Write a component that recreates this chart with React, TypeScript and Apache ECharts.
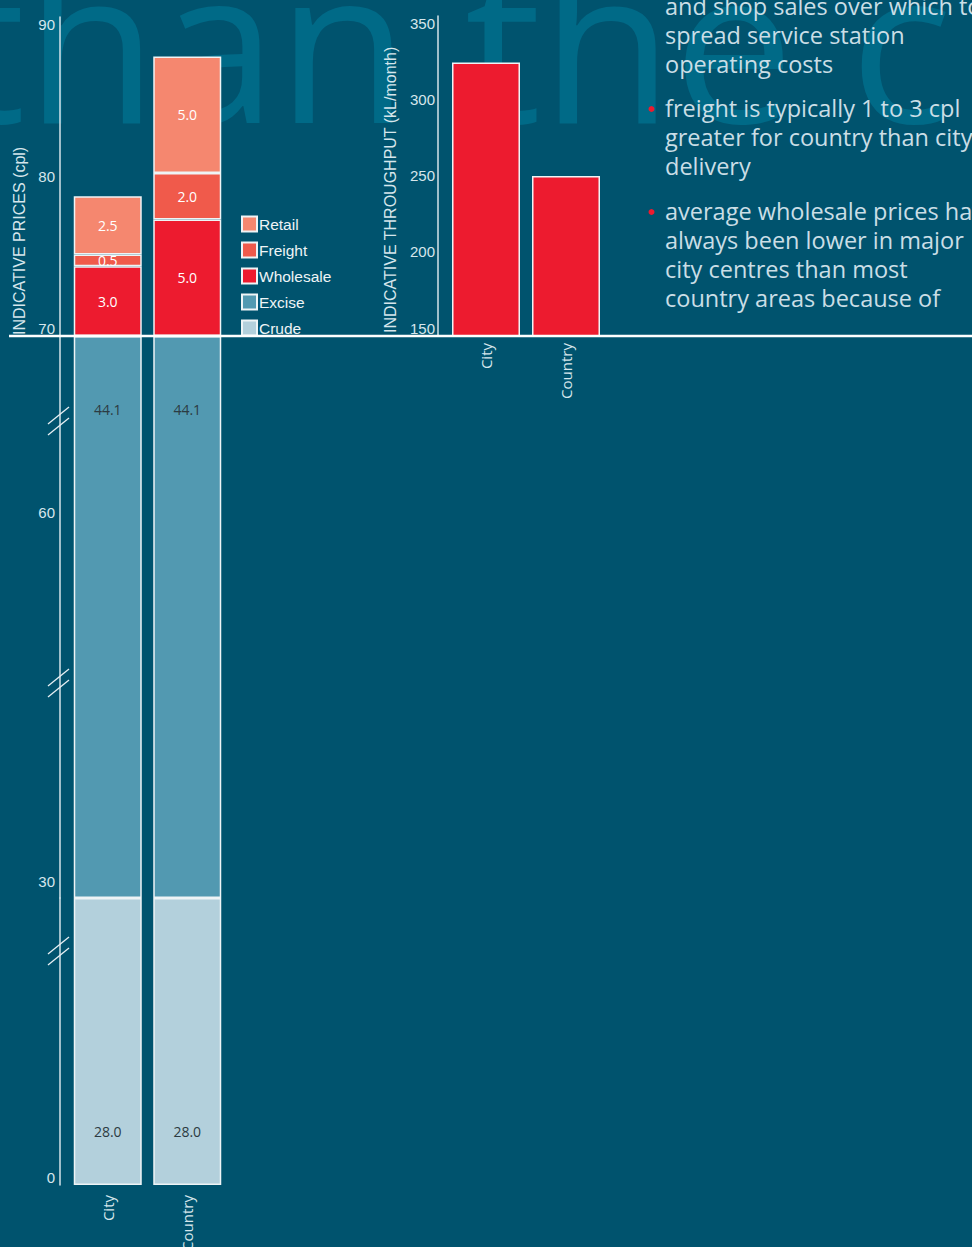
import React, { useEffect, useRef } from "react";
import * as echarts from "echarts";

// ---------- data ----------
const CATEGORIES = ["City", "Country"];
const CRUDE = [28.0, 28.0];
const EXCISE = [44.1, 44.1];
const WHOLESALE = [3.0, 5.0];
const FREIGHT = [0.5, 2.0];
const RETAIL = [2.5, 5.0];
const THROUGHPUT = [321, 250];

const PRICE_TICKS_UPPER = [70, 80, 90];
const PRICE_TICKS_MIDDLE = [30, 60];
const PRICE_TICKS_BASE = [0];
const THROUGHPUT_TICKS = [150, 200, 250, 300, 350];

const LEGEND_ITEMS = ["Retail", "Freight", "Wholesale", "Excise", "Crude"];

const PRICE_TITLE = "INDICATIVE PRICES (cpl)";
const THROUGHPUT_TITLE = "INDICATIVE THROUGHPUT (kL/month)";
const WATERMARK = "than the c";

const TEXT_LINES = [
  { text: "and shop sales over which to", bullet: false },
  { text: "spread service station", bullet: false },
  { text: "operating costs", bullet: false },
  { text: "freight is typically 1 to 3 cpl", bullet: true },
  { text: "greater for country than city", bullet: false },
  { text: "delivery", bullet: false },
  { text: "average wholesale prices have", bullet: true },
  { text: "always been lower in major", bullet: false },
  { text: "city centres than most", bullet: false },
  { text: "country areas because of", bullet: false },
];
const TEXT_BASELINES = [15, 44, 73, 117, 146, 175, 220, 249, 278, 307];

// ---------- styles ----------
const BG = "#00536e";
const WATERMARK_COLOR = "#006a87";
const LIGHT = "#d6e6ec";
const BORDER = "#eef4f6";
const C_RETAIL = "#f5876f";
const C_FREIGHT = "#f05a4b";
const C_WHOLESALE = "#ed1b2f";
const C_EXCISE = "#5299b1";
const C_CRUDE = "#b3d0dc";
const SANS = '"Liberation Sans", Arial, sans-serif';
const HUMAN = '"Open Sans", "Noto Sans", sans-serif';

const UPPER_SPAN = 13.7;

export default function App() {
  const ref = useRef<HTMLDivElement>(null);

  useEffect(() => {
    document.body.style.margin = "0";
    const chart = echarts.init(ref.current as HTMLDivElement, null, { renderer: "svg" });

    const hiddenX = (gridIndex: number) => ({
      type: "category",
      gridIndex,
      data: CATEGORIES,
      show: false,
    });
    const visibleX = (gridIndex: number, margin: number) => ({
      type: "category",
      gridIndex,
      data: CATEGORIES,
      axisLine: { show: false },
      axisTick: { show: false },
      axisLabel: {
        rotate: 90,
        margin,
        color: LIGHT,
        fontFamily: HUMAN,
        fontSize: 15,
      },
    });
    const lineY = (gridIndex: number, min: number, max: number) => ({
      type: "value",
      gridIndex,
      min,
      max,
      offset: 8,
      axisLine: { show: true, lineStyle: { color: "#d4e3ea", width: 1.5 } },
      axisTick: { show: false },
      axisLabel: { show: false },
      splitLine: { show: false },
    });
    const labelY = (gridIndex: number, min: number, max: number, interval: number, ticks: number[], margin: number) => ({
      type: "value",
      gridIndex,
      min,
      max,
      interval,
      offset: 8,
      axisLine: { show: false },
      axisTick: { show: false },
      splitLine: { show: false },
      axisLabel: {
        show: true,
        margin,
        color: LIGHT,
        fontFamily: SANS,
        fontSize: 15,
        formatter: (v: number) => (ticks.includes(v) ? String(v) : ""),
      },
    });

    const upperLabel = {
      show: true,
      position: "inside",
      color: "#ffffff",
      fontFamily: HUMAN,
      fontSize: 14,
      formatter: (p: any) => Number(p.value).toFixed(1),
    };
    const barStyle = (color: string) => ({ color, borderColor: BORDER, borderWidth: 1.5 });

    const graphics: any[] = [];
    graphics.push({
      type: "text",
      x: -51,
      y: 147,
      z: -10,
      silent: true,
      style: {
        text: WATERMARK,
        font: '215px "Open Sans", sans-serif',
        fill: WATERMARK_COLOR,
        align: "left",
        textAlign: "left",
        verticalAlign: "bottom",
        textVerticalAlign: "bottom",
      },
    });
    // baseline rule
    graphics.push({
      type: "line",
      shape: { x1: 9, y1: 336, x2: 972, y2: 336 },
      style: { stroke: "#ffffff", lineWidth: 2.5 },
      z: 10,
    });
    // axis break marks
    [421, 683, 951].forEach((cy) => {
      [-5.5, 5.5].forEach((d) => {
        graphics.push({
          type: "line",
          shape: { x1: 48, y1: cy + d + 8.5, x2: 69, y2: cy + d - 8.5 },
          style: { stroke: "#e6eff3", lineWidth: 1.3 },
          z: 10,
        });
      });
    });
    // axis titles
    graphics.push({
      type: "text",
      x: 19,
      y: 335,
      rotation: Math.PI / 2,
      style: {
        text: PRICE_TITLE,
        font: `16px ${SANS}`,
        fill: LIGHT,
        align: "left",
        textAlign: "left",
        verticalAlign: "middle",
        textVerticalAlign: "middle",
      },
    });
    graphics.push({
      type: "text",
      x: 390,
      y: 333,
      rotation: Math.PI / 2,
      style: {
        text: THROUGHPUT_TITLE,
        font: `16px ${SANS}`,
        fill: LIGHT,
        align: "left",
        textAlign: "left",
        verticalAlign: "middle",
        textVerticalAlign: "middle",
      },
    });
    // body text
    TEXT_LINES.forEach((line, i) => {
      const y = TEXT_BASELINES[i] - 9;
      graphics.push({
        type: "text",
        x: 665,
        y,
        style: {
          text: line.text,
          font: `23.5px ${HUMAN}`,
          fill: "#cadee6",
          align: "left",
          textAlign: "left",
          verticalAlign: "middle",
          textVerticalAlign: "middle",
        },
      });
      if (line.bullet) {
        graphics.push({
          type: "circle",
          shape: { cx: 651.5, cy: y + 1, r: 3 },
          style: { fill: C_WHOLESALE },
        });
      }
    });

    const G = (left: number, top: number, width: number, height: number) => ({
      left,
      top,
      width,
      height,
      outerBoundsMode: "none",
      containLabel: false,
    });

    const option: any = {
      animation: false,
      backgroundColor: BG,
      grid: [
        G(68, 17, 159, 319), // 0 upper bars
        G(68, 336, 159, 562), // 1 excise
        G(68, 898, 159, 287), // 2 crude
        G(446, 16, 160, 320), // 3 throughput
        G(68, 24, 159, 304), // 4 labels 70-90
        G(68, 512, 159, 369), // 5 labels 30/60
        G(446, 23, 160, 305), // 6 throughput labels
      ],
      xAxis: [
        hiddenX(0),
        hiddenX(1),
        visibleX(2, 10),
        visibleX(3, 7),
        hiddenX(4),
        hiddenX(5),
        hiddenX(6),
      ],
      yAxis: [
        lineY(0, 0, UPPER_SPAN),
        lineY(1, CRUDE[0], CRUDE[0] + EXCISE[0]),
        {
          ...lineY(2, 0, CRUDE[0]),
          interval: CRUDE[0],
          axisLabel: {
            show: true,
            margin: 5,
            color: LIGHT,
            fontFamily: SANS,
            fontSize: 15,
            verticalAlign: "bottom",
            formatter: (v: number) => (PRICE_TICKS_BASE.includes(v) ? String(v) : ""),
          },
        },
        lineY(3, THROUGHPUT_TICKS[0], THROUGHPUT_TICKS[THROUGHPUT_TICKS.length - 1]),
        labelY(4, PRICE_TICKS_UPPER[0], PRICE_TICKS_UPPER[2], 10, PRICE_TICKS_UPPER, 5),
        labelY(5, PRICE_TICKS_MIDDLE[0], PRICE_TICKS_MIDDLE[1], 30, PRICE_TICKS_MIDDLE, 5),
        labelY(6, THROUGHPUT_TICKS[0], THROUGHPUT_TICKS[THROUGHPUT_TICKS.length - 1], 50, THROUGHPUT_TICKS, 3),
      ],
      legend: {
        data: LEGEND_ITEMS,
        orient: "vertical",
        left: 241,
        top: 215,
        padding: 0,
        itemWidth: 15,
        itemHeight: 15,
        itemGap: 8,
        icon: "rect",
        selectedMode: false,
        textStyle: { color: "#eef4f6", fontFamily: SANS, fontSize: 15.5, lineHeight: 18, padding: [0, 0, 0, -3] },
      },
      series: [
        {
          name: "Wholesale",
          type: "bar",
          xAxisIndex: 0,
          yAxisIndex: 0,
          stack: "upper",
          barWidth: 68,
          data: WHOLESALE,
          itemStyle: barStyle(C_WHOLESALE),
          label: upperLabel,
        },
        {
          name: "Freight",
          type: "bar",
          xAxisIndex: 0,
          yAxisIndex: 0,
          stack: "upper",
          barWidth: 68,
          data: FREIGHT,
          itemStyle: barStyle(C_FREIGHT),
          label: upperLabel,
        },
        {
          name: "Retail",
          type: "bar",
          xAxisIndex: 0,
          yAxisIndex: 0,
          stack: "upper",
          barWidth: 68,
          data: RETAIL,
          itemStyle: barStyle(C_RETAIL),
          label: upperLabel,
        },
        {
          name: "base",
          type: "bar",
          xAxisIndex: 1,
          yAxisIndex: 1,
          stack: "lower",
          barWidth: 68,
          data: CRUDE,
          silent: true,
          itemStyle: { color: "transparent", borderWidth: 0 },
          label: { show: false },
        },
        {
          name: "Excise",
          type: "bar",
          xAxisIndex: 1,
          yAxisIndex: 1,
          stack: "lower",
          barWidth: 68,
          data: EXCISE,
          itemStyle: barStyle(C_EXCISE),
          label: {
            show: true,
            position: "insideTop",
            distance: 66,
            color: "#2c3b42",
            fontFamily: HUMAN,
            fontSize: 14,
            formatter: (p: any) => Number(p.value).toFixed(1),
          },
        },
        {
          name: "Crude",
          type: "bar",
          xAxisIndex: 2,
          yAxisIndex: 2,
          barWidth: 68,
          data: CRUDE,
          itemStyle: barStyle(C_CRUDE),
          label: {
            show: true,
            position: "insideBottom",
            distance: 47,
            color: "#2c3b42",
            fontFamily: HUMAN,
            fontSize: 14,
            formatter: (p: any) => Number(p.value).toFixed(1),
          },
        },
        {
          name: "Throughput",
          type: "bar",
          xAxisIndex: 3,
          yAxisIndex: 3,
          barWidth: 68,
          data: THROUGHPUT,
          itemStyle: barStyle(C_WHOLESALE),
        },
      ],
      graphic: graphics,
    };

    chart.setOption(option);
    return () => chart.dispose();
  }, []);

  return (
    <div
      ref={ref}
      style={{ position: "absolute", left: 0, top: 0, width: 972, height: 1247 }}
    />
  );
}
